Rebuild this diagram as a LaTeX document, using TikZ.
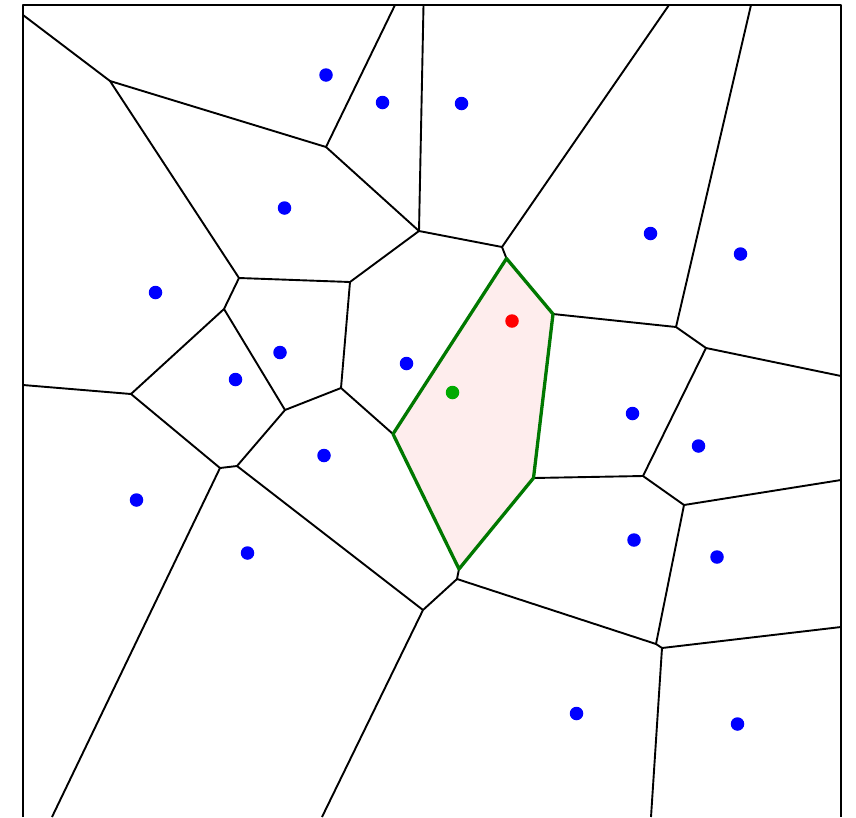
\documentclass[tikz,border=0pt]{standalone}
\begin{document}
\begin{tikzpicture}[x=1pt,y=-1pt,
  edge/.style={black,line width=1.9pt,line join=round},
  cell/.style={draw={rgb,255:red,0;green,120;blue,0},line width=3.3pt,line join=round,fill={rgb,255:red,254;green,237;blue,237}},
  site/.style={circle,fill={rgb,255:red,0;green,0;blue,255},inner sep=0pt,minimum size=13.5pt},
  query/.style={circle,fill={rgb,255:red,255;green,0;blue,0},inner sep=0pt,minimum size=13.5pt},
  start/.style={circle,fill={rgb,255:red,0;green,170;blue,0},inner sep=0pt,minimum size=13.5pt}]
\useasboundingbox (0,0) rectangle (856,817);
% frame
\draw[edge] (23,817) -- (23,5) -- (841,5) -- (841,817);
% vertices
\coordinate (V1) at (110,81);
\coordinate (V2) at (326,147);
\coordinate (V3) at (239,278);
\coordinate (V4) at (419,231);
\coordinate (V5) at (350,282);
\coordinate (V6) at (224,309);
\coordinate (V7) at (131,394);
\coordinate (V8) at (285,410);
\coordinate (V9) at (341,388);
\coordinate (V10) at (502,247);
\coordinate (V11) at (676,327);
\coordinate (V12) at (706,348);
\coordinate (V13) at (643,476);
\coordinate (V14) at (684,505);
\coordinate (V15) at (457,579);
\coordinate (V16) at (423,610);
\coordinate (V17) at (656,644);
\coordinate (V18) at (662,648);
\coordinate (V19) at (220,468);
\coordinate (V20) at (237,466);
\coordinate (G1) at (506.5,258.5);
\coordinate (G2) at (553,314);
\coordinate (G3) at (533.5,478);
\coordinate (G4) at (393,434);
\coordinate (G5) at (459,569);
% border ends
\coordinate (B1) at (23,15);
\coordinate (B2) at (395,5);
\coordinate (B3) at (423.5,5);
\coordinate (B4) at (669,5);
\coordinate (B5) at (751,5);
\coordinate (B6) at (23,385);
\coordinate (B7) at (841,376);
\coordinate (B8) at (841,480);
\coordinate (B9) at (841,627);
\coordinate (B10) at (651,817);
\coordinate (B11) at (322,817);
\coordinate (B12) at (52,817);
% black edges
\draw[edge] (B1) -- (V1) -- (V2) -- (B2);
\draw[edge] (V1) -- (V3) -- (V5) -- (V4) -- (B3);
\draw[edge] (V2) -- (V4) -- (V10) -- (B4);
\draw[edge] (V10) -- (G1);
\draw[edge] (V3) -- (V6) -- (V7) -- (B6);
\draw[edge] (V6) -- (V8) -- (V9) -- (V5);
\draw[edge] (V9) -- (G4);
\draw[edge] (G2) -- (V11) -- (B5);
\draw[edge] (V11) -- (V12) -- (B7);
\draw[edge] (V12) -- (V13) -- (G3);
\draw[edge] (V13) -- (V14) -- (B8);
\draw[edge] (V14) -- (V17) -- (V18) -- (B9);
\draw[edge] (V18) -- (B10);
\draw[edge] (G5) -- (V15) -- (V17);
\draw[edge] (V15) -- (V16) -- (B11);
\draw[edge] (V7) -- (V19) -- (V20) -- (V8);
\draw[edge] (V20) -- (V16);
\draw[edge] (V19) -- (B12);
% highlighted cell
\draw[cell] (G1) -- (G2) -- (G3) -- (G5) -- (G4) -- cycle;
% sites
\node[site] (s1) at (326,75) {};
\node[site] (s2) at (382.5,102.5) {};
\node[site] (s3) at (461.5,103.5) {};
\node[site] (s4) at (284.5,208) {};
\node[site] (s5) at (650.5,233.5) {};
\node[site] (s6) at (740.5,254) {};
\node[site] (s7) at (155.5,292.5) {};
\node[site] (s8) at (280,352.5) {};
\node[site] (s9) at (406.5,363.5) {};
\node[site] (s10) at (235.5,379.5) {};
\node[site] (s11) at (632.5,413.5) {};
\node[site] (s12) at (698.5,446) {};
\node[site] (s13) at (324,455.5) {};
\node[site] (s14) at (136.5,500) {};
\node[site] (s15) at (634,540) {};
\node[site] (s16) at (717,557) {};
\node[site] (s17) at (247.5,553) {};
\node[site] (s18) at (576.5,713.5) {};
\node[site] (s19) at (737.5,724) {};
\node[query] (q) at (512,321) {};
\node[start] (g) at (452.5,392.5) {};
\end{tikzpicture}
\end{document}
